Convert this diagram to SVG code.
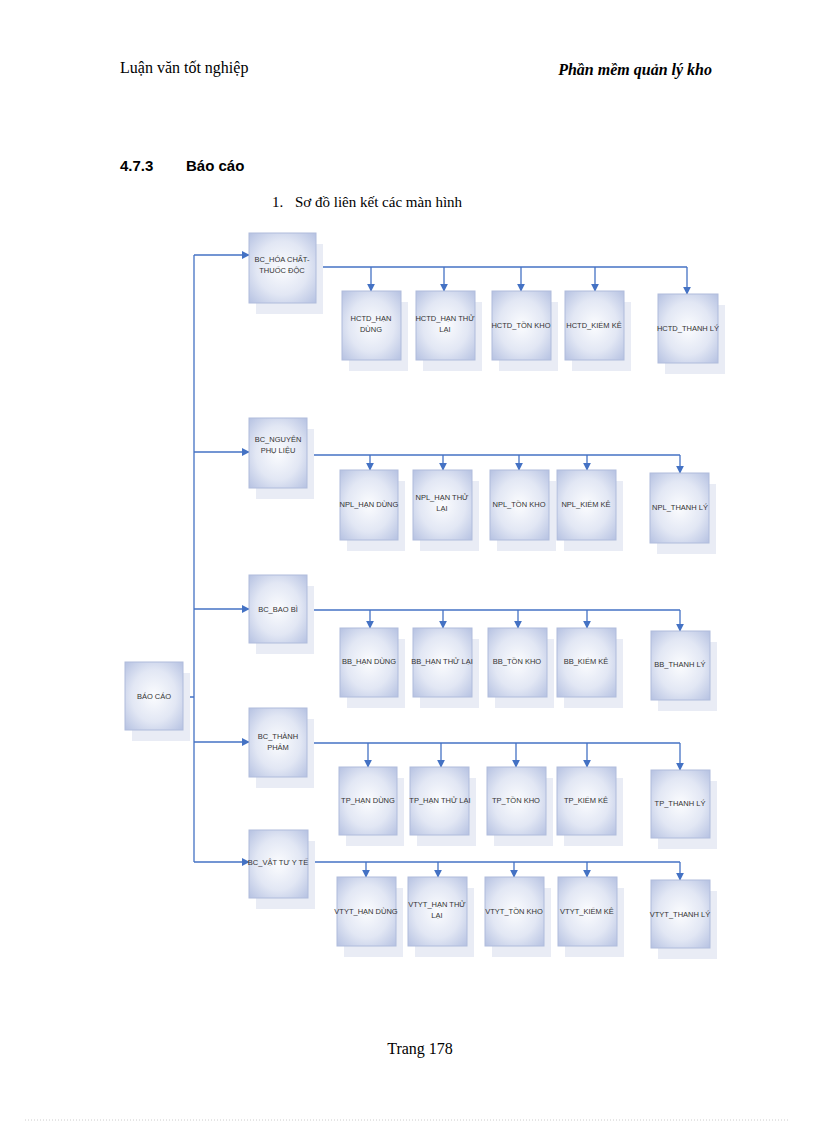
<svg xmlns="http://www.w3.org/2000/svg" width="816" height="1123" viewBox="0 0 816 1123">
<defs>
<radialGradient id="g" cx="50%" cy="50%" r="70%"><stop offset="0" stop-color="#fbfcfe"/><stop offset="0.55" stop-color="#e2e7f4"/><stop offset="1" stop-color="#b6c2e2"/></radialGradient>
<marker id="a" viewBox="0 0 10 10" refX="9" refY="5" markerWidth="6" markerHeight="6" orient="auto"><path d="M0,0 L10,5 L0,10 z" fill="#4472c4"/></marker>
</defs>
<style>
.sh{fill:#e9ecf5}
.bx{fill:url(#g);stroke:#b0bcdc;stroke-width:1}
.t{font-family:"Liberation Sans",Arial,sans-serif;font-size:7.5px;fill:#333;text-anchor:middle}
.c{fill:none;stroke:#4472c4;stroke-width:1.3}
.ar{marker-end:url(#a)}
</style>
<rect width="816" height="1123" fill="#fff"/>
<text x="120" y="73" font-family="Liberation Serif,serif" font-size="16">Luận văn tốt nghiệp</text>
<text x="712" y="75" font-family="Liberation Serif,serif" font-size="16" font-weight="bold" font-style="italic" text-anchor="end">Phần mềm quản lý kho</text>
<text x="120" y="171" font-family="Liberation Sans,Arial,sans-serif" font-size="15" font-weight="bold">4.7.3</text>
<text x="186" y="171" font-family="Liberation Sans,Arial,sans-serif" font-size="15" font-weight="bold">Báo cáo</text>
<text x="272" y="207" font-family="Liberation Serif,serif" font-size="15">1.</text>
<text x="295" y="207" font-family="Liberation Serif,serif" font-size="15">Sơ đồ liên kết các màn hình</text>
<text x="420" y="1054" font-family="Liberation Serif,serif" font-size="16" text-anchor="middle">Trang  178</text>
<line x1="25" y1="1120" x2="790" y2="1120" stroke="#ccc" stroke-dasharray="1,2"/>

<g id="connectors">
<path class="c" d="M183,697 H194 M194,255 V862"/>
<path class="c ar" d="M194,255 H249"/><path class="c ar" d="M194,452 H249"/><path class="c ar" d="M194,609 H249"/><path class="c ar" d="M194,742 H249"/><path class="c ar" d="M194,862 H249"/>
<path class="c" d="M316,267 H687"/>
<path class="c ar" d="M371,267 V291"/><path class="c ar" d="M444,267 V291"/><path class="c ar" d="M521,267 V291"/><path class="c ar" d="M595,267 V291"/><path class="c ar" d="M687,267 V294"/>
<path class="c" d="M307,455 H680"/>
<path class="c ar" d="M370,455 V470"/><path class="c ar" d="M443,455 V470"/><path class="c ar" d="M519,455 V470"/><path class="c ar" d="M587,455 V470"/><path class="c ar" d="M680,455 V473"/>
<path class="c" d="M307,610 H680"/>
<path class="c ar" d="M370,610 V628"/><path class="c ar" d="M443,610 V628"/><path class="c ar" d="M518,610 V628"/><path class="c ar" d="M587,610 V628"/><path class="c ar" d="M680,610 V631"/>
<path class="c" d="M307,743 H680"/>
<path class="c ar" d="M368,743 V767"/><path class="c ar" d="M441,743 V767"/><path class="c ar" d="M516,743 V767"/><path class="c ar" d="M587,743 V767"/><path class="c ar" d="M680,743 V770"/>
<path class="c" d="M308,862 H680"/>
<path class="c ar" d="M366,862 V877"/><path class="c ar" d="M438,862 V877"/><path class="c ar" d="M514,862 V877"/><path class="c ar" d="M587,862 V877"/><path class="c ar" d="M680,862 V880"/>
</g>

<g id="n0"><rect class="sh" x="132" y="673" width="58" height="68"/><rect class="bx" x="125" y="662" width="58" height="68"/><text class="t" x="154" y="699">BÁO CÁO</text></g>

<g id="r1">
<g id="n1"><rect class="sh" x="256" y="244" width="67" height="70"/><rect class="bx" x="249" y="233" width="67" height="70"/><text class="t" x="282" y="262">BC_HÓA CHẤT-</text><text class="t" x="282" y="273">THUỐC ĐỘC</text></g>
<g id="n1a"><rect class="sh" x="349" y="302" width="59" height="69"/><rect class="bx" x="342" y="291" width="59" height="69"/><text class="t" x="371" y="321">HCTD_HẠN</text><text class="t" x="371" y="332">DÙNG</text></g>
<g id="n1b"><rect class="sh" x="423" y="302" width="59" height="69"/><rect class="bx" x="416" y="291" width="59" height="69"/><text class="t" x="445" y="321">HCTD_HẠN THỬ</text><text class="t" x="445" y="332">LẠI</text></g>
<g id="n1c"><rect class="sh" x="499" y="302" width="59" height="69"/><rect class="bx" x="492" y="291" width="59" height="69"/><text class="t" x="521" y="328">HCTD_TỒN KHO</text></g>
<g id="n1d"><rect class="sh" x="572" y="302" width="59" height="69"/><rect class="bx" x="565" y="291" width="59" height="69"/><text class="t" x="594" y="328">HCTD_KIỂM KÊ</text></g>
<g id="n1e"><rect class="sh" x="665" y="305" width="60" height="69"/><rect class="bx" x="658" y="294" width="60" height="69"/><text class="t" x="688" y="331">HCTD_THANH LÝ</text></g>
</g>

<g id="r2">
<g id="n2"><rect class="sh" x="256" y="429" width="58" height="70"/><rect class="bx" x="249" y="418" width="58" height="70"/><text class="t" x="278" y="442">BC_NGUYÊN</text><text class="t" x="278" y="453">PHỤ LIỆU</text></g>
<g id="n2a"><rect class="sh" x="347" y="481" width="58" height="70"/><rect class="bx" x="340" y="470" width="58" height="70"/><text class="t" x="369" y="507">NPL_HẠN DÙNG</text></g>
<g id="n2b"><rect class="sh" x="420" y="481" width="59" height="70"/><rect class="bx" x="413" y="470" width="59" height="70"/><text class="t" x="442" y="500">NPL_HẠN THỬ</text><text class="t" x="442" y="511">LẠI</text></g>
<g id="n2c"><rect class="sh" x="497" y="481" width="59" height="70"/><rect class="bx" x="490" y="470" width="59" height="70"/><text class="t" x="519" y="507">NPL_TỒN KHO</text></g>
<g id="n2d"><rect class="sh" x="564" y="481" width="59" height="70"/><rect class="bx" x="557" y="470" width="59" height="70"/><text class="t" x="586" y="507">NPL_KIỂM KÊ</text></g>
<g id="n2e"><rect class="sh" x="657" y="484" width="59" height="70"/><rect class="bx" x="650" y="473" width="59" height="70"/><text class="t" x="680" y="510">NPL_THANH LÝ</text></g>
</g>

<g id="r3">
<g id="n3"><rect class="sh" x="256" y="586" width="58" height="68"/><rect class="bx" x="249" y="575" width="58" height="68"/><text class="t" x="278" y="612">BC_BAO BÌ</text></g>
<g id="n3a"><rect class="sh" x="347" y="639" width="58" height="69"/><rect class="bx" x="340" y="628" width="58" height="69"/><text class="t" x="369" y="664">BB_HẠN DÙNG</text></g>
<g id="n3b"><rect class="sh" x="420" y="639" width="59" height="69"/><rect class="bx" x="413" y="628" width="59" height="69"/><text class="t" x="442" y="664">BB_HẠN THỬ LẠI</text></g>
<g id="n3c"><rect class="sh" x="495" y="639" width="59" height="69"/><rect class="bx" x="488" y="628" width="59" height="69"/><text class="t" x="517" y="664">BB_TỒN KHO</text></g>
<g id="n3d"><rect class="sh" x="564" y="639" width="59" height="69"/><rect class="bx" x="557" y="628" width="59" height="69"/><text class="t" x="586" y="664">BB_KIỂM KÊ</text></g>
<g id="n3e"><rect class="sh" x="658" y="642" width="59" height="69"/><rect class="bx" x="651" y="631" width="59" height="69"/><text class="t" x="680" y="667">BB_THANH LÝ</text></g>
</g>

<g id="r4">
<g id="n4"><rect class="sh" x="256" y="719" width="58" height="69"/><rect class="bx" x="249" y="708" width="58" height="69"/><text class="t" x="278" y="739">BC_THÀNH</text><text class="t" x="278" y="750">PHẨM</text></g>
<g id="n4a"><rect class="sh" x="346" y="778" width="58" height="68"/><rect class="bx" x="339" y="767" width="58" height="68"/><text class="t" x="368" y="803">TP_HẠN DÙNG</text></g>
<g id="n4b"><rect class="sh" x="417" y="778" width="59" height="68"/><rect class="bx" x="410" y="767" width="59" height="68"/><text class="t" x="440" y="803">TP_HẠN THỬ LẠI</text></g>
<g id="n4c"><rect class="sh" x="494" y="778" width="59" height="68"/><rect class="bx" x="487" y="767" width="59" height="68"/><text class="t" x="516" y="803">TP_TỒN KHO</text></g>
<g id="n4d"><rect class="sh" x="564" y="778" width="59" height="68"/><rect class="bx" x="557" y="767" width="59" height="68"/><text class="t" x="586" y="803">TP_KIỂM KÊ</text></g>
<g id="n4e"><rect class="sh" x="658" y="781" width="59" height="68"/><rect class="bx" x="651" y="770" width="59" height="68"/><text class="t" x="680" y="806">TP_THANH LÝ</text></g>
</g>

<g id="r5">
<g id="n5"><rect class="sh" x="256" y="841" width="59" height="68"/><rect class="bx" x="249" y="830" width="59" height="68"/><text class="t" x="278" y="865" font-size="7">BC_VẬT TƯ Y TẾ</text></g>
<g id="n5a"><rect class="sh" x="344" y="888" width="59" height="69"/><rect class="bx" x="337" y="877" width="59" height="69"/><text class="t" x="366" y="914">VTYT_HẠN DÙNG</text></g>
<g id="n5b"><rect class="sh" x="415" y="888" width="59" height="69"/><rect class="bx" x="408" y="877" width="59" height="69"/><text class="t" x="437" y="907">VTYT_HẠN THỬ</text><text class="t" x="437" y="918">LẠI</text></g>
<g id="n5c"><rect class="sh" x="492" y="888" width="59" height="69"/><rect class="bx" x="485" y="877" width="59" height="69"/><text class="t" x="514" y="914">VTYT_TỒN KHO</text></g>
<g id="n5d"><rect class="sh" x="565" y="888" width="59" height="69"/><rect class="bx" x="558" y="877" width="59" height="69"/><text class="t" x="587" y="914">VTYT_KIỂM KÊ</text></g>
<g id="n5e"><rect class="sh" x="658" y="891" width="59" height="68"/><rect class="bx" x="651" y="880" width="59" height="68"/><text class="t" x="680" y="917">VTYT_THANH LÝ</text></g>
</g>
</svg>
